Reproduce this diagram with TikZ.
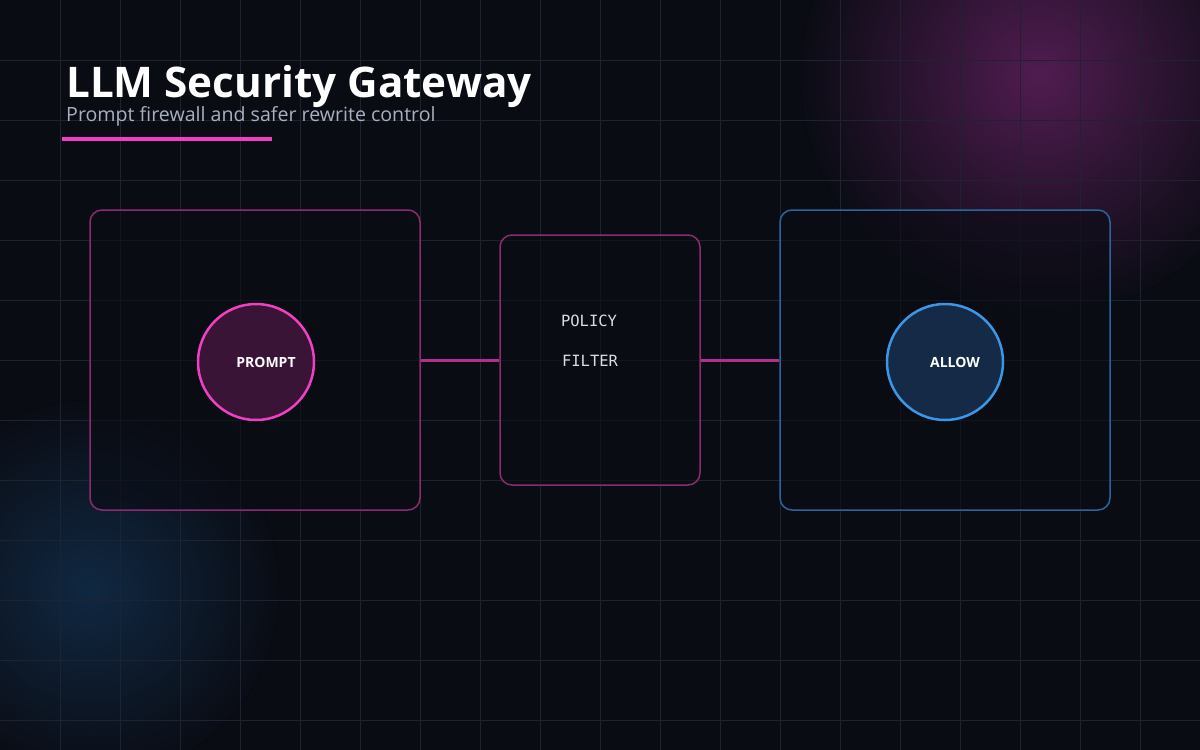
\documentclass[tikz,border=0pt]{standalone}
\usepackage{fontspec}
\setmainfont{Open Sans}
\setmonofont{DejaVu Sans Mono}
\begin{document}
\begin{tikzpicture}[x=1pt,y=-1pt,
  box/.style={rounded corners=12pt,line width=1.5pt},
  circ/.style={circle,minimum size=116pt,line width=2.5pt,inner sep=0pt,text=white,font=\bfseries\fontsize{14}{16}\selectfont},
  link/.style={line width=3pt,draw=magline},
  mono/.style={text=monotext,font=\ttfamily\fontsize{15.5}{17}\selectfont}]
\definecolor{bg}{HTML}{0A0C14}
\definecolor{gridc}{HTML}{1E2332}
\definecolor{pinkb}{HTML}{8A2C72}
\definecolor{pinkc}{HTML}{F040C0}
\definecolor{pinkf}{HTML}{3A1436}
\definecolor{blueb}{HTML}{2C64A0}
\definecolor{bluec}{HTML}{3C96E6}
\definecolor{bluef}{HTML}{142A46}
\definecolor{magline}{HTML}{B0308C}
\definecolor{monotext}{HTML}{D8DCE4}
\definecolor{subc}{HTML}{A8B0C0}
\useasboundingbox (0,0) rectangle (1200,750);
\fill[bg] (0,0) rectangle (1200,750);
\fill[inner color={rgb,255:red,80;green,28;blue,80},outer color=bg] (1040,75) circle (240);
\fill[inner color={rgb,255:red,16;green,40;blue,66},outer color=bg] (90,590) circle (190);
\foreach \i in {60,120,...,1140} \draw[gridc,line width=0.8pt] (\i,0) -- (\i,750);
\foreach \j in {60,120,...,720} \draw[gridc,line width=0.8pt] (0,\j) -- (1200,\j);
\node[anchor=base west,inner sep=0,text=white,font=\bfseries\fontsize{42.2}{44}\selectfont] (title) at (66,97) {LLM Security Gateway};
\node[anchor=base west,inner sep=0,text=subc,font=\fontsize{19.6}{22}\selectfont] (sub) at (66,121) {Prompt firewall and safer rewrite control};
\draw[pinkc,line width=4pt] (62,139) coordinate (u1) -- (272,139) coordinate (u2);
\node[box,draw=pinkb,fill=bg,fill opacity=0.6,draw opacity=1,minimum width=330pt,minimum height=300pt] (lb) at (255,360) {};
\node[box,draw=pinkb,fill=bg,fill opacity=0.6,draw opacity=1,minimum width=200pt,minimum height=250pt] (mb) at (600,360) {};
\node[box,draw=blueb,fill=bg,fill opacity=0.6,draw opacity=1,minimum width=330pt,minimum height=300pt] (rb) at (945,360) {};
\node[circ,draw=pinkc,fill=pinkf] (prompt) at (256,362) {\hspace*{20pt}PROMPT};
\node[circ,draw=bluec,fill=bluef] (allow) at (945,362) {\hspace*{20pt}ALLOW};
\node[mono] (pol) at (589,321) {POLICY};
\node[mono] (fil) at (590,361) {FILTER};
\draw[link] (lb.east) -- (mb.west);
\draw[link] (mb.east) -- (rb.west);
\end{tikzpicture}
\end{document}
